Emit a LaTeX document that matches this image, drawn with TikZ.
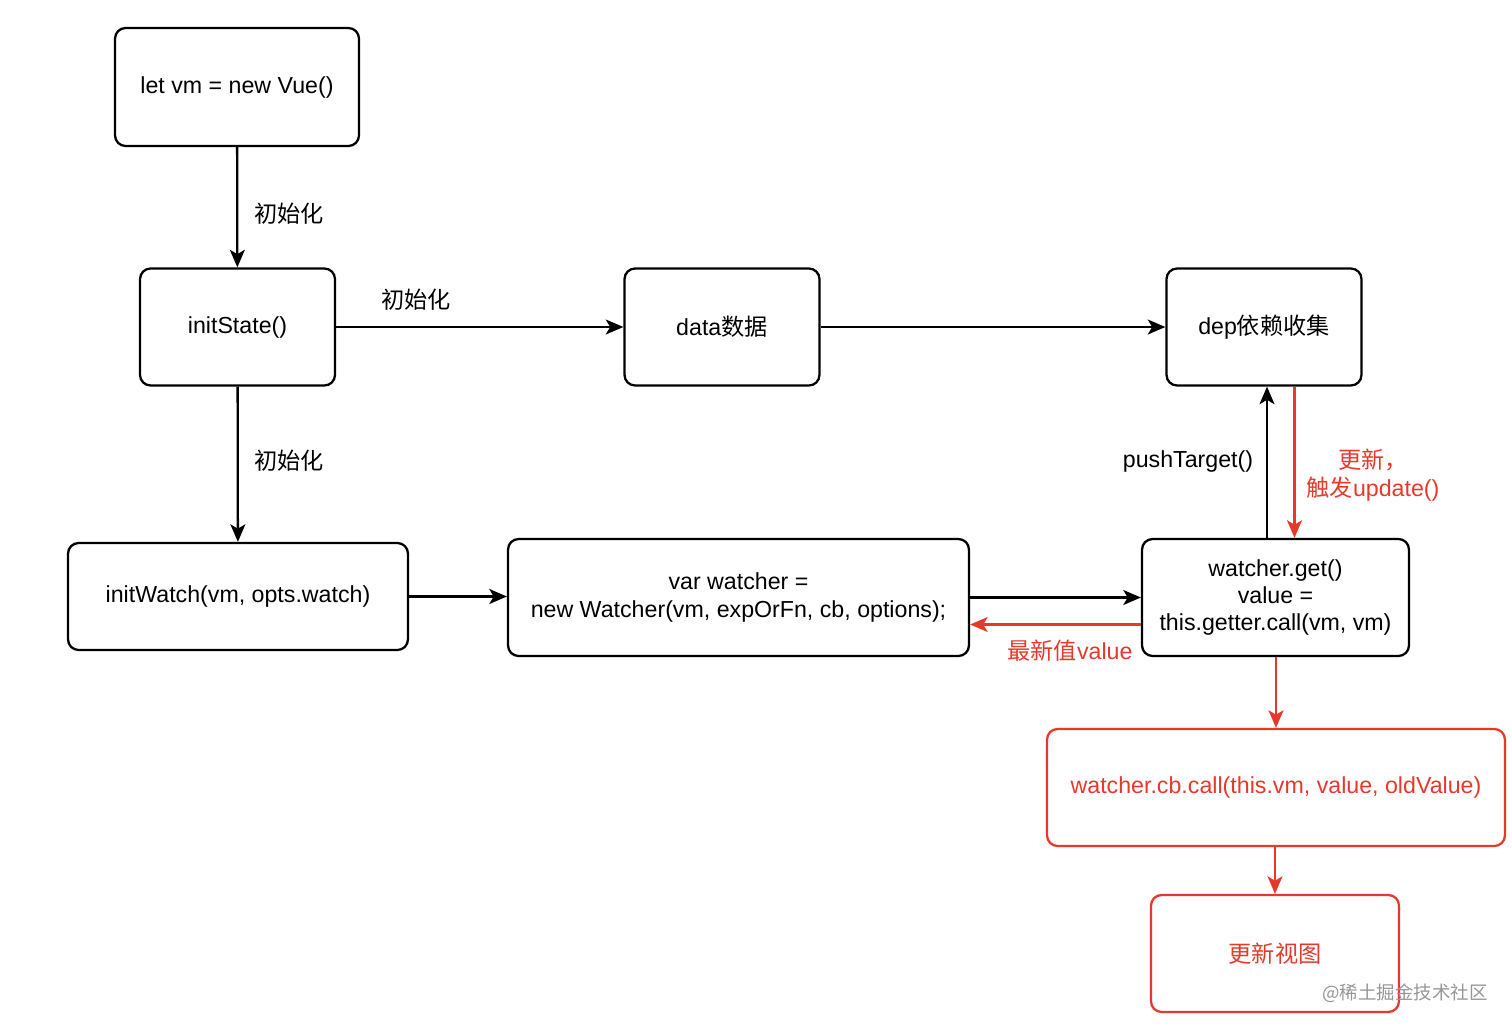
\documentclass[tikz,border=0pt]{standalone}
\usepackage{fontspec}
\setmainfont{Liberation Sans}
\newfontfamily\cjk{Noto Sans CJK SC}
\usetikzlibrary{arrows.meta}
\definecolor{upRed}{RGB}{229,57,43}
\definecolor{markGray}{RGB}{150,150,150}
\def\lw{1.3pt}
\def\bh{2.34cm}

\begin{document}
\begin{tikzpicture}[x=0.02cm, y=-0.02cm,
    box/.style={draw, rounded corners=6pt, line width=\lw, align=center, inner sep=0pt,
        minimum height=\bh, font=\fontsize{13.2}{15.6}\selectfont},
    redbox/.style={box, draw=upRed, text=upRed},
    arr/.style={-{Stealth[length=10pt, width=8.5pt, inset=2.5pt]}, line width=\lw},
    redarr/.style={arr, draw=upRed},
    lbl/.style={font=\fontsize{13.2}{15.6}\selectfont, align=center},
    redlbl/.style={lbl, text=upRed}]

\useasboundingbox (0,0) rectangle (1512,1031);

% Boxes
\node[box, minimum width=4.88cm, minimum height=2.36cm] (vue) at (237,87) {let vm = new Vue()};
\node[box, minimum width=3.9cm] (state) at (237.5,327) {initState()};
\node[box, minimum width=3.9cm] (data) at (722,327) {data{\cjk 数据}};
\node[box, minimum width=3.9cm] (dep) at (1264,327) {dep{\cjk 依赖收集}};
\node[box, minimum width=6.8cm, minimum height=2.14cm] (watch) at (238,596.5) {initWatch(vm, opts.watch)};
\node[box, minimum width=9.22cm] (newW) at (738.5,597.5) {var watcher =\\new Watcher(vm, expOrFn, cb, options);};
\node[box, minimum width=5.34cm] (get) at (1275.5,597.5) {watcher.get()\\value =\\this.getter.call(vm, vm)};
\node[redbox, minimum width=9.16cm] (cb) at (1276,787.5) {watcher.cb.call(this.vm, value, oldValue)};
\node[redbox, minimum width=4.96cm] (view) at (1275,953.5) {{\cjk 更新视图}};

% Black connectors
\draw[arr] (vue) -- (state);
\draw[arr] (state) -- (data);
\draw[arr] (data) -- (dep);
\draw[arr] (state) -- (watch);
\draw[arr] (watch.east) -- (watch.east -| newW.west);
\draw[arr] (newW.east) -- (newW.east -| get.west);
\draw[arr] ([xshift=-0.17cm]get.north) -- ([xshift=-0.17cm]get.north |- dep.south); % pushTarget

% Red connectors
\draw[redarr] ([xshift=0.38cm]get.north |- dep.south) -- ([xshift=0.38cm]get.north); % update
\draw[redarr] ([yshift=-0.54cm]get.west) -- ([yshift=-0.54cm]get.west -| newW.east); % value back
\draw[redarr] ([xshift=0.01cm]get.south) -- ([xshift=0.01cm]get.south |- cb.north);
\draw[redarr] (cb.south -| view.north) -- (view.north);

% Labels
\node[lbl] (init1) at (289,214) {{\cjk 初始化}};
\node[lbl] (init2) at (416,300) {{\cjk 初始化}};
\node[lbl] (init3) at (289,461) {{\cjk 初始化}};
\node[lbl] (push) at (1188,461) {pushTarget()};
\node[redlbl] (upd) at (1373,475) {{\cjk 更新，}\\{\cjk 触发}update()};
\node[redlbl] (newest) at (1070,651) {{\cjk 最新值}value};

% Watermark
\node[font=\cjk\fontsize{10.5}{12}\selectfont, text=markGray] (mark) at (1405,993) {@稀土掘金技术社区};

\end{tikzpicture}
\end{document}
